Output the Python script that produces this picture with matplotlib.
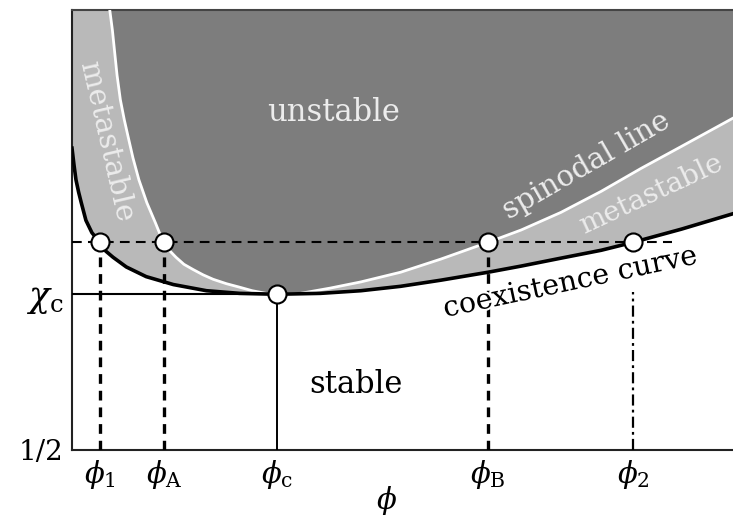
import numpy as np
import matplotlib
matplotlib.use("Agg")
from matplotlib import pyplot as plt
from matplotlib import patheffects as pe

plt.rcParams['font.family'] = ['DejaVu Serif']
plt.rcParams['mathtext.fontset'] = 'dejavuserif'
plt.rcParams['lines.scale_dashes'] = False

# coexistence (binodal) curve
coex_phi = [0.000, 0.003, 0.006, 0.010, 0.014, 0.021, 0.030, 0.042, 0.051, 0.062,
            0.082, 0.112, 0.153, 0.203, 0.253, 0.309, 0.375, 0.436, 0.496, 0.557,
            0.628, 0.678, 0.738, 0.799, 0.847, 0.920, 1.000]
coex_chi = [0.843, 0.824, 0.807, 0.793, 0.781, 0.761, 0.747, 0.736, 0.726, 0.719,
            0.708, 0.697, 0.688, 0.681, 0.678, 0.677, 0.678, 0.681, 0.686, 0.693,
            0.702, 0.709, 0.718, 0.727, 0.736, 0.751, 0.769]

# spinodal line
spin_phi = [0.057, 0.061, 0.064, 0.068, 0.073, 0.079, 0.085, 0.092, 0.101, 0.113,
            0.126, 0.133, 0.139, 0.148, 0.157, 0.169, 0.183, 0.198, 0.213, 0.233,
            0.253, 0.272, 0.293, 0.310, 0.330, 0.345, 0.390, 0.436, 0.496, 0.557,
            0.628, 0.678, 0.738, 0.799, 0.859, 0.920, 1.000]
spin_chi = [1.000, 0.977, 0.955, 0.926, 0.898, 0.875, 0.855, 0.832, 0.807, 0.781,
            0.758, 0.745, 0.736, 0.726, 0.719, 0.711, 0.705, 0.699, 0.694, 0.689,
            0.685, 0.681, 0.678, 0.677, 0.6772, 0.678, 0.684, 0.691, 0.702, 0.717,
            0.736, 0.750, 0.770, 0.794, 0.820, 0.845, 0.878]

chi_half = 0.5
chi_c = 0.677
chi_dash = 0.736
dash_end = 0.905

# marked compositions: phi_1, phi_A, phi_c, phi_B, phi_2
mark_phi = [0.042, 0.139, 0.310, 0.628, 0.847]
mark_chi = [chi_dash, chi_dash, chi_c, chi_dash, chi_dash]
drop_top = [chi_dash, chi_dash, chi_c, chi_dash, 0.680]
mark_labels = [r'$\phi_1$', r'$\phi_\mathrm{A}$', r'$\phi_\mathrm{c}$',
               r'$\phi_\mathrm{B}$', r'$\phi_2$']

dark = '#7d7d7d'
light = '#b9b9b9'
pale = '#ececec'

fig = plt.figure(figsize=(7.33, 5.18), dpi=100)
ax = fig.add_axes([72 / 733, 68 / 518, 1 - 72 / 733 + 0.002, 440 / 518])
ax.set_xlim(0, 1)
ax.set_ylim(0.5, 1.0)

# regions: light above the binodal, dark above the spinodal
ax.fill(coex_phi + [1.0, 0.0], coex_chi + [1.0, 1.0], color=light, lw=0, zorder=1)
ax.fill(spin_phi + [1.0], spin_chi + [1.0], color=dark, lw=0, zorder=2)

ax.plot(spin_phi, spin_chi, color='white', lw=2.0, zorder=3,
        solid_joinstyle='round')
ax.plot(coex_phi, coex_chi, color='black', lw=2.6, zorder=4,
        solid_joinstyle='round')

# guide lines
ax.plot([0, mark_phi[2]], [chi_c, chi_c], color='black', lw=1.5, zorder=4)
ax.plot([0, dash_end], [chi_dash, chi_dash], color='black', lw=1.5,
        dashes=(7, 4.5), zorder=5)
styles = ['dashed', 'dashed', 'solid', 'dashed', 'dashdot']
for x, top, st in zip(mark_phi, drop_top, styles):
    if st == 'solid':
        ax.plot([x, x], [chi_half, top], color='black', lw=1.4, zorder=4)
    elif st == 'dashed':
        ax.plot([x, x], [chi_half, top], color='black', lw=2.4,
                dashes=(7, 5), zorder=4)
    else:
        ax.plot([x, x], [chi_half, top], color='black', lw=1.6,
                dashes=(8, 3, 2, 3), zorder=4)

ax.plot(mark_phi, mark_chi, 'o', ms=13, mfc='white', mec='black', mew=1.5,
        zorder=6)

# region labels
ax.text(0.395, 0.884, 'unstable', color=pale, fontsize=22, ha='center',
        va='center', zorder=7)
ax.text(0.052, 0.850, 'metastable', color=pale, fontsize=21, ha='center',
        va='center', rotation=-77, rotation_mode='anchor', zorder=7)
ax.text(0.776, 0.823, 'spinodal line', color=pale, fontsize=21, ha='center',
        va='center', rotation=30, rotation_mode='anchor', zorder=7)
ax.text(0.874, 0.790, 'metastable', color=pale, fontsize=20, ha='center',
        va='center', rotation=25, rotation_mode='anchor', zorder=7)
ax.text(0.752, 0.690, 'coexistence curve', color='black', fontsize=20.5,
        ha='center', va='center', rotation=12, rotation_mode='anchor', zorder=7,
        path_effects=[pe.withStroke(linewidth=3, foreground='white')])
ax.text(0.428, 0.574, 'stable', color='black', fontsize=22, ha='center',
        va='center', zorder=7)

ax.set_xticks(mark_phi)
ax.set_xticklabels(mark_labels, fontsize=21)
ax.set_yticks([chi_half, chi_c])
ax.set_yticklabels(['1/2', r'$\chi_\mathrm{c}$'])
labels = ax.get_yticklabels()
labels[0].set_fontsize(20)
labels[1].set_fontsize(25)
ax.tick_params(length=0, pad=6)
ax.set_xlabel(r'$\phi$', fontsize=21)
ax.xaxis.set_label_coords(0.475, -0.078)

for s in ['left', 'bottom']:
    ax.spines[s].set_linewidth(1.5)
    ax.spines[s].set_color('#222222')
ax.spines['top'].set_linewidth(1.5)
ax.spines['top'].set_color('#444444')
ax.spines['right'].set_visible(False)

fig.savefig('out.png', dpi=100)
